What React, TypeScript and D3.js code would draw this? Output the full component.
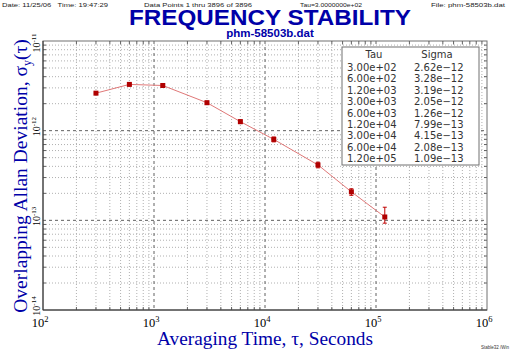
import React from "react";
import * as d3 from "d3";

const taus = [300, 600, 1200, 3000, 6000, 12000, 30000, 60000, 120000];
const sigmas = [2.62e-12, 3.28e-12, 3.19e-12, 2.05e-12, 1.26e-12, 7.99e-13, 4.15e-13, 2.08e-13, 1.09e-13];
const errLow = [2.58e-12, 3.2e-12, 3.1e-12, 1.97e-12, 1.2e-12, 7.5e-13, 3.85e-13, 1.9e-13, 0.93e-13];
const errHigh = [2.66e-12, 3.36e-12, 3.29e-12, 2.13e-12, 1.32e-12, 8.5e-13, 4.45e-13, 2.25e-13, 1.40e-13];
const tauLabels = ["3.00e+02", "6.00e+02", "1.20e+03", "3.00e+03", "6.00e+03", "1.20e+04", "3.00e+04", "6.00e+04", "1.20e+05"];
const sigmaLabels = ["2.62e\u221212", "3.28e\u221212", "3.19e\u221212", "2.05e\u221212", "1.26e\u221212", "7.99e\u221213", "4.15e\u221213", "2.08e\u221213", "1.09e\u221213"];
const xDecades = [2, 3, 4, 5, 6];
const yDecades = [-14, -13, -12, -11];

const W = 512, H = 351;
const L = 43, R = 487, T = 41, B = 310;
const blue = "#0000a8";

export default function App() {
  const x = d3.scaleLog().domain([1e2, 1e6]).range([L, R]);
  const y = d3.scaleLog().domain([1e-14, 1e-11]).range([B, T]);
  const xMinor: number[] = [];
  for (let e = 2; e < 6; e++) for (let m = 2; m <= 9; m++) xMinor.push(m * Math.pow(10, e));
  const yMinor: number[] = [];
  for (let e = -14; e < -11; e++) for (let m = 2; m <= 9; m++) yMinor.push(m * Math.pow(10, e));
  const line = d3.line<number>().x((_, i) => x(taus[i])).y((d) => y(d));
  const serif = "'Liberation Serif', 'DejaVu Serif', serif";
  const sans = "'Liberation Sans', Arial, sans-serif";
  const mono = "'DejaVu Sans', sans-serif";
  return (
    <svg width={W} height={H} style={{ position: "absolute", left: 0, top: 0, background: "#fff" }}>
      <rect width={W} height={H} fill="#fff" />
      {/* header */}
      <g fontFamily={sans} fontSize={6} fill="#222">
        <text x={2} y={6.5} textLength={106} lengthAdjust="spacingAndGlyphs">Date: 11/25/06&#160;&#160;&#160;Time: 19:47:29</text>
        <text x={144} y={6.5} textLength={108} lengthAdjust="spacingAndGlyphs">Data Points 1 thru 3896 of 3896</text>
        <text x={300} y={6.5} textLength={62} lengthAdjust="spacingAndGlyphs">Tau=3.0000000e+02</text>
        <text x={431} y={6.5} textLength={74} lengthAdjust="spacingAndGlyphs">File: phm-58503b.dat</text>
      </g>
      <text x={129} y={25} fontFamily={sans} fontWeight="bold" fontSize={22} fill={blue} textLength={282} lengthAdjust="spacingAndGlyphs">FREQUENCY STABILITY</text>
      <text x={270} y={37} textAnchor="middle" fontFamily={sans} fontWeight="bold" fontSize={11.5} fill={blue}>phm-58503b.dat</text>
      {/* grid */}
      <g>
        {xMinor.map((v, i) => (
          <line key={"xm" + i} x1={x(v)} x2={x(v)} y1={T} y2={B} stroke="#b0b0b0" strokeWidth={1} strokeDasharray="1,2" />
        ))}
        {yMinor.map((v, i) => (
          <line key={"ym" + i} x1={L} x2={R} y1={y(v)} y2={y(v)} stroke="#b0b0b0" strokeWidth={1} strokeDasharray="1,2" />
        ))}
        {xDecades.slice(1, -1).map((e) => (
          <line key={"xd" + e} x1={x(Math.pow(10, e))} x2={x(Math.pow(10, e))} y1={T} y2={B} stroke="#606060" strokeWidth={1} strokeDasharray="3,3" />
        ))}
        {yDecades.slice(1, -1).map((e) => (
          <line key={"yd" + e} x1={L} x2={R} y1={y(Math.pow(10, e))} y2={y(Math.pow(10, e))} stroke="#606060" strokeWidth={1} strokeDasharray="3,3" />
        ))}
      </g>
      {/* minor ticks on edges */}
      <g stroke="#606060" strokeWidth={1}>
        {xMinor.map((v, i) => (
          <g key={"xt" + i}>
            <line x1={x(v)} x2={x(v)} y1={B} y2={B - 3} />
            <line x1={x(v)} x2={x(v)} y1={T} y2={T + 3} />
          </g>
        ))}
        {yMinor.map((v, i) => (
          <g key={"yt" + i}>
            <line x1={L} x2={L + 3} y1={y(v)} y2={y(v)} />
            <line x1={R} x2={R - 3} y1={y(v)} y2={y(v)} />
          </g>
        ))}
      </g>
      <rect x={L} y={T} width={R - L} height={B - T} fill="none" stroke="#707070" strokeWidth={1} />
      <line x1={L} x2={L} y1={T} y2={B} stroke="#303030" />
      <line x1={L} x2={R} y1={B} y2={B} stroke="#303030" />
      {/* data */}
      <path d={line(sigmas) || ""} fill="none" stroke="#e07878" strokeWidth={1} />
      {taus.map((t, i) => (
        <g key={"eb" + i} stroke="#c00000" strokeWidth={1}>
          <line x1={x(t)} x2={x(t)} y1={y(errLow[i])} y2={y(errHigh[i])} />
          <line x1={x(t) - 2} x2={x(t) + 2} y1={y(errLow[i])} y2={y(errLow[i])} />
          <line x1={x(t) - 2} x2={x(t) + 2} y1={y(errHigh[i])} y2={y(errHigh[i])} />
        </g>
      ))}
      {taus.map((t, i) => (
        <rect key={"p" + i} x={x(t) - 2.5} y={y(sigmas[i]) - 2.5} width={5} height={5} fill="#b00000" />
      ))}
      {/* x tick labels */}
      {xDecades.map((e) => (
        <text key={"xl" + e} x={x(Math.pow(10, e)) - 3} y={326.5} textAnchor="middle" fontFamily={serif} fontSize={12.5} fill="#000">
          10<tspan dy={-5} fontSize={8.5}>{e}</tspan>
        </text>
      ))}
      {/* y tick labels */}
      {yDecades.map((e) => {
        const yy = Math.max(y(Math.pow(10, e)) - 4, T + 2);
        return (
          <text key={"yl" + e} transform={`translate(40,${yy}) rotate(-90)`} textAnchor="middle" fontFamily={serif} fontSize={10} fill="#000">
            10<tspan dy={-4} fontSize={7}>{e}</tspan>
          </text>
        );
      })}
      {/* axis titles */}
      <text x={157} y={345} fontFamily={serif} fontSize={18.5} fill={blue} textLength={216} lengthAdjust="spacingAndGlyphs">Averaging Time, &#964;, Seconds</text>
      <text transform="translate(27,176) rotate(-90)" textAnchor="middle" fontFamily={serif} fontSize={19.5} fill={blue}>
        Overlapping Allan Deviation, &#963;<tspan dy={4} fontSize={12}>y</tspan><tspan dy={-4}>(&#964;)</tspan>
      </text>
      {/* legend table */}
      <rect x={342} y={47} width={137} height={118} fill="#fff" stroke="#707070" strokeWidth={1} />
      <g fontFamily={mono} fontSize={10} fill="#333">
        <text x={374} y={58} textAnchor="middle">Tau</text>
        <text x={437} y={58} textAnchor="middle">Sigma</text>
        {tauLabels.map((s, i) => (
          <text key={"tl" + i} x={347} y={71 + i * 11.4}>{s}</text>
        ))}
        {sigmaLabels.map((s, i) => (
          <text key={"sl" + i} x={414} y={71 + i * 11.4}>{s}</text>
        ))}
      </g>
      <text x={509} y={349} textAnchor="end" fontFamily={sans} fontSize={4.5} fill="#333">Stable32 /Win</text>
    </svg>
  );
}
